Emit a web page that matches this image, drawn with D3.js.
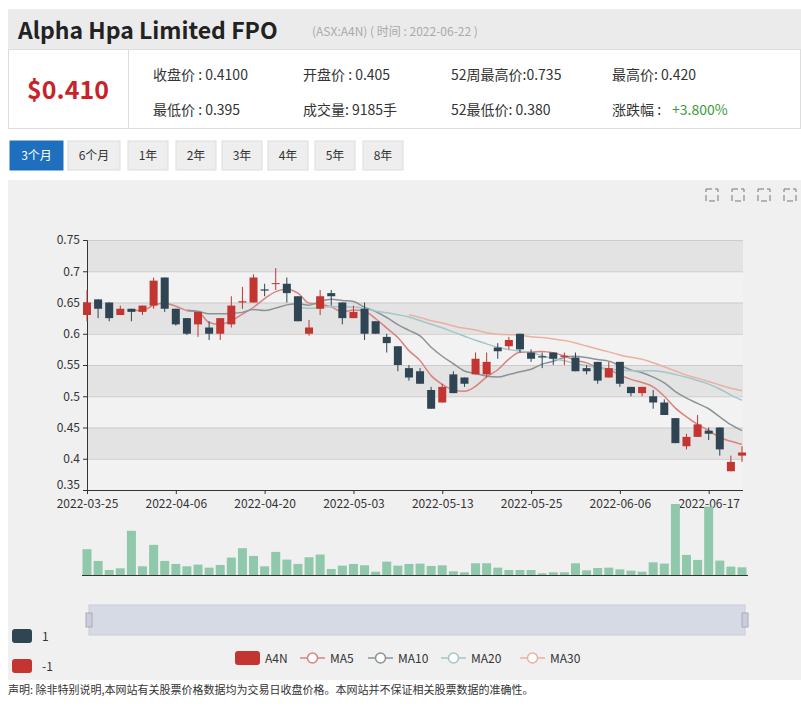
<!DOCTYPE html>
<html><head><meta charset="utf-8">
<script src="https://cdn.jsdelivr.net/npm/d3@7/dist/d3.min.js"></script>
<style>
body{margin:0;background:#fff;font-family:"Microsoft YaHei","Noto Sans CJK SC",sans-serif;}
svg text{font-family:"Noto Sans CJK SC","Noto Sans",sans-serif;}
</style></head><body>
<svg id="c" width="801" height="711"></svg>
<script>
var dates = ['2022-03-25','2022-03-28','2022-03-29','2022-03-30','2022-03-31','2022-04-01','2022-04-04','2022-04-05','2022-04-06',
'2022-04-07','2022-04-08','2022-04-11','2022-04-12','2022-04-13','2022-04-14','2022-04-19','2022-04-20',
'2022-04-21','2022-04-22','2022-04-26','2022-04-27','2022-04-28','2022-04-29','2022-05-02','2022-05-03',
'2022-05-04','2022-05-05','2022-05-06','2022-05-09','2022-05-10','2022-05-11','2022-05-12','2022-05-13',
'2022-05-16','2022-05-17','2022-05-18','2022-05-19','2022-05-20','2022-05-23','2022-05-24','2022-05-25',
'2022-05-26','2022-05-27','2022-05-30','2022-05-31','2022-06-01','2022-06-02','2022-06-03','2022-06-06',
'2022-06-07','2022-06-08','2022-06-09','2022-06-10','2022-06-14','2022-06-15','2022-06-16','2022-06-17',
'2022-06-20','2022-06-21','2022-06-22'];
var opens  = [.63,.655,.65,.63,.64,.635,.645,.69,.64,.625,.615,.61,.60,.615,.65,.65,.671,.68,.68,.66,.60,.64,.665,.65,.625,.64,.62,.595,.58,.545,.54,.51,.49,.535,.53,.535,.535,.578,.58,.60,.57,.564,.57,.563,.562,.545,.555,.53,.555,.515,.505,.50,.49,.465,.42,.435,.445,.45,.38,.405];
var closes = [.65,.64,.625,.64,.635,.645,.685,.64,.615,.60,.635,.60,.625,.645,.652,.69,.669,.681,.665,.62,.61,.66,.66,.625,.635,.60,.60,.585,.55,.53,.52,.48,.515,.505,.52,.56,.555,.572,.59,.575,.56,.562,.56,.565,.54,.54,.525,.545,.52,.505,.515,.49,.47,.425,.435,.455,.44,.415,.395,.41];
var highs  = [.67,.655,.65,.645,.64,.645,.69,.69,.64,.625,.635,.62,.625,.66,.675,.695,.68,.705,.69,.66,.622,.67,.67,.65,.645,.65,.62,.60,.58,.55,.545,.515,.52,.54,.53,.57,.57,.585,.595,.60,.575,.57,.57,.57,.57,.55,.555,.555,.555,.515,.515,.51,.495,.465,.44,.47,.45,.45,.405,.42];
var lows   = [.62,.625,.62,.63,.62,.63,.64,.635,.613,.598,.595,.59,.59,.61,.64,.65,.66,.67,.65,.62,.597,.63,.645,.615,.625,.59,.60,.57,.54,.525,.52,.48,.49,.505,.515,.535,.53,.56,.575,.57,.555,.545,.55,.55,.54,.535,.52,.53,.515,.50,.50,.48,.47,.425,.415,.435,.43,.405,.38,.395];
var volumes = [77,42,15,20,132,26,90,42,33,26,31,22,30,52,80,57,26,69,46,33,53,61,18,28,33,29,10,40,28,33,34,27,29,11,8,35,35,22,15,15,15,5,8,8,35,14,21,22,17,13,10,38,34,212,60,45,204,43,25,23];
var tickDates = ['2022-03-25','2022-04-06','2022-04-20','2022-05-03','2022-05-13','2022-05-25','2022-06-06','2022-06-17'];
var yTicks = [0.35,0.4,0.45,0.5,0.55,0.6,0.65,0.7,0.75];
var maDefs = [{name:'MA5',n:5,color:'#d9837f'},{name:'MA10',n:10,color:'#8a9396'},{name:'MA20',n:20,color:'#a3c6c6'},{name:'MA30',n:30,color:'#eab0a2'}];
var upColor = '#c23531', downColor = '#2f4554', volColor = '#8fc8aa';

var svg = d3.select('#c');
var font = 'Noto Sans CJK SC, Noto Sans, sans-serif';

// header
svg.append('rect').attr('x',8).attr('y',9).attr('width',793).attr('height',40).attr('fill','#ebebeb');
svg.append('text').attr('x',18).attr('y',39).attr('font-size',23).attr('font-weight','bold').attr('fill','#222').attr('font-family','Roboto, sans-serif').text('Alpha Hpa Limited FPO');
svg.append('text').attr('x',312).attr('y',36).attr('font-size',12).attr('fill','#aaa').text('(ASX:A4N) ( 时间 : 2022-06-22 )');
svg.append('rect').attr('x',8.5).attr('y',49.5).attr('width',792).attr('height',79).attr('fill','#fff').attr('stroke','#ddd');
svg.append('line').attr('x1',128.5).attr('x2',128.5).attr('y1',50).attr('y2',128).attr('stroke','#ddd');
svg.append('text').attr('x',68).attr('y',99).attr('text-anchor','middle').attr('font-size',25).attr('font-weight','bold').attr('fill','#c9232a').attr('font-family','Roboto, sans-serif').text('$0.410');
var info = [['收盘价 : 0.4100',153,80],['开盘价 :  0.405',303,80],['52周最高价:0.735',451,80],['最高价: 0.420',612,80],
            ['最低价 : 0.395',153,115],['成交量: 9185手',303,115],['52最低价: 0.380',451,115],['涨跌幅 : ',612,115]];
info.forEach(function(d){ svg.append('text').attr('x',d[1]).attr('y',d[2]).attr('font-size',14).attr('fill','#333').text(d[0]); });
svg.append('text').attr('x',672).attr('y',115).attr('font-size',14).attr('fill','#3a9a3a').text('+3.800%');

// buttons
var btns = ['3个月','6个月','1年','2年','3年','4年','5年','8年'];
var bx = [10,68,128,176,222,268,315,363], bw = [53,52,40,40,40,40,40,40];
btns.forEach(function(b,i){
  svg.append('rect').attr('x',bx[i]).attr('y',141).attr('width',bw[i]).attr('height',29)
    .attr('fill',i===0?'#1e6fbe':'#eee').attr('stroke',i===0?'#1e6fbe':'#ddd');
  svg.append('text').attr('x',bx[i]+bw[i]/2).attr('y',160).attr('text-anchor','middle').attr('font-size',12)
    .attr('fill',i===0?'#fff':'#333').text(b);
});

// chart background
svg.append('rect').attr('x',8).attr('y',180).attr('width',793).attr('height',500).attr('fill','#f1f0f1');
// toolbox icons
[712,738,764,790].forEach(function(x){
  svg.append('rect').attr('x',x-6).attr('y',189).attr('width',12).attr('height',12).attr('fill','none').attr('stroke','#777').attr('stroke-dasharray','6,3');
});

var x = d3.scalePoint().domain(dates).range([87,742]);
var y = d3.scaleLinear().domain([0.35,0.75]).range([490,240]);
var plotL = 87, plotR = 743;

// bands
for (var i=0;i<yTicks.length-1;i++){
  svg.append('rect').attr('x',plotL).attr('width',plotR-plotL).attr('y',y(yTicks[i+1])).attr('height',y(yTicks[i])-y(yTicks[i+1]))
    .attr('fill', (yTicks.length-2-i)%2===0 ? '#e3e3e3' : '#f2f2f3');
}
svg.append('g').selectAll('line').data(yTicks).join('line').attr('x1',plotL).attr('x2',plotR)
  .attr('y1',function(d){return y(d)+.5;}).attr('y2',function(d){return y(d)+.5;}).attr('stroke','#ccc');

var yAxis = svg.append('g').attr('transform','translate(87,0)').call(d3.axisLeft(y).tickValues(yTicks).tickFormat(d3.format('')).tickSize(4));
var xAxis = svg.append('g').attr('transform','translate(0,490)').call(d3.axisBottom(x).tickValues(tickDates).tickSize(4));
xAxis.select('.domain').attr('d','M'+plotL+',0.5H'+plotR);
[yAxis,xAxis].forEach(function(a){
  a.selectAll('path,line').attr('stroke','#333');
  a.selectAll('text').attr('font-size',12).attr('fill','#333').attr('font-family',font);
});
yAxis.selectAll('.tick text').filter(function(d){return d===0.35;}).attr('dy','-0.1em');
xAxis.selectAll('.tick text').attr('dy','0.9em');

// moving averages
maDefs.forEach(function(m){
  var pts = [];
  closes.forEach(function(c,i){ if(i>=m.n-1){ pts.push([dates[i], d3.mean(closes.slice(i-m.n+1,i+1))]); } });
  var line = d3.line().x(function(d){return x(d[0]);}).y(function(d){return y(d[1]);}).curve(d3.curveMonotoneX);
  svg.append('path').datum(pts).attr('d',line).attr('fill','none').attr('stroke',m.color).attr('stroke-width',1.5);
});

// candles
var cw = 8;
var candles = svg.append('g').selectAll('g').data(dates).join('g');
candles.append('line').attr('x1',function(d){return x(d);}).attr('x2',function(d){return x(d);})
  .attr('y1',function(d,i){return y(highs[i]);}).attr('y2',function(d,i){return y(lows[i]);})
  .attr('stroke',function(d,i){return closes[i]>=opens[i]?upColor:downColor;});
candles.append('rect').attr('x',function(d){return x(d)-cw/2;}).attr('width',cw)
  .attr('y',function(d,i){return y(Math.max(opens[i],closes[i]));})
  .attr('height',function(d,i){return Math.max(1,Math.abs(y(opens[i])-y(closes[i])));})
  .attr('fill',function(d,i){return closes[i]>=opens[i]?upColor:downColor;});

// volume
var yv = d3.scaleLinear().domain([0,d3.max(volumes)]).range([575,504]);
svg.append('g').selectAll('rect').data(volumes).join('rect')
  .attr('x',function(d,i){return x(dates[i])-4.5;}).attr('width',9)
  .attr('y',function(d){return yv(d);}).attr('height',function(d){return 575-yv(d);}).attr('fill',volColor);
svg.append('line').attr('x1',82).attr('x2',748).attr('y1',575.5).attr('y2',575.5).attr('stroke','#333');

// data zoom slider
svg.append('rect').attr('x',89).attr('y',605).attr('width',656).attr('height',30).attr('fill','#d5dae4').attr('stroke','#c8ccd6');
[89,745].forEach(function(hx){
  svg.append('rect').attr('x',hx-3).attr('y',613).attr('width',6).attr('height',14).attr('fill','#ccd').attr('stroke','#aab');
});

// visual map legend
[['1',downColor,637],['-1',upColor,667]].forEach(function(d){
  svg.append('rect').attr('x',12).attr('y',d[2]-8).attr('width',20).attr('height',14).attr('rx',3).attr('fill',d[1]);
  svg.append('text').attr('x',42).attr('y',d[2]+4).attr('font-size',12).attr('fill','#333').text(d[0]);
});

// series legend
var lg = svg.append('g').attr('transform','translate(235,658)');
lg.append('rect').attr('x',0).attr('y',-7).attr('width',25).attr('height',14).attr('rx',3).attr('fill',upColor);
lg.append('text').attr('x',30).attr('y',5).attr('font-size',12).attr('fill','#333').text('A4N');
var lx = [65,133,206,285];
maDefs.forEach(function(m,i){
  lg.append('line').attr('x1',lx[i]).attr('x2',lx[i]+25).attr('y1',0).attr('y2',0).attr('stroke',m.color).attr('stroke-width',1.5);
  lg.append('circle').attr('cx',lx[i]+12.5).attr('cy',0).attr('r',5).attr('fill','#fff').attr('stroke',m.color).attr('stroke-width',1.5);
  lg.append('text').attr('x',lx[i]+30).attr('y',5).attr('font-size',12).attr('fill','#333').text(m.name);
});

svg.append('text').attr('x',8).attr('y',694).attr('font-size',11).attr('fill','#333').text('声明: 除非特别说明,本网站有关股票价格数据均为交易日收盘价格。本网站并不保证相关股票数据的准确性。');
</script></body></html>
